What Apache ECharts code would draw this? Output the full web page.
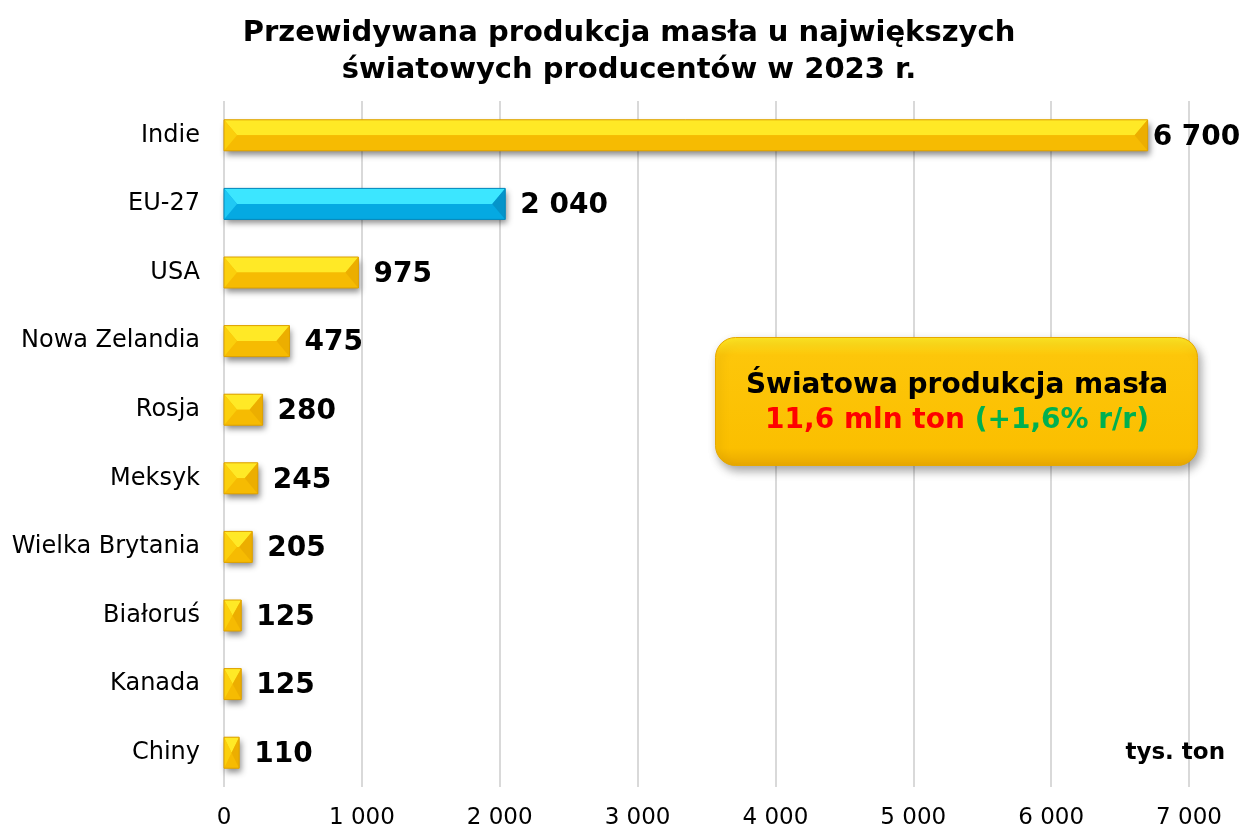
<!DOCTYPE html>
<html><head><meta charset="utf-8">
<script src="https://cdn.jsdelivr.net/npm/echarts@6/dist/echarts.min.js"></script>
<style>html,body{margin:0;padding:0;background:#fff}#c{width:1247px;height:830px}</style>
</head><body><div id="c"></div>
<script>
const categories = ['Indie','EU-27','USA','Nowa Zelandia','Rosja','Meksyk','Wielka Brytania','Białoruś','Kanada','Chiny'];
const values = [6700, 2040, 975, 475, 280, 245, 205, 125, 125, 110];
const highlight = ['EU-27'];
const xTicks = [0, 1000, 2000, 3000, 4000, 5000, 6000, 7000];
const titleLines = ['Przewidywana produkcja masła u największych', 'światowych producentów w 2023 r.'];
const unitLabel = 'tys. ton';
const boxLine1 = 'Światowa produkcja masła';
const boxLine2a = '11,6 mln ton';
const boxLine2b = '(+1,6% r/r)';

const FONT = 'DejaVu Sans';
const fmt = v => String(v).replace(/\B(?=(\d{3})+(?!\d))/g, ' ');

const palettes = {
  yellow: {top:'#FFE926', bottom:'#F6BB02', left:'#FBCF0C', right:'#ECAE00', edge:'#DDA000'},
  blue:   {top:'#3CE6FF', bottom:'#05A9E2', left:'#20C8F4', right:'#0594CA', edge:'#0588BB'}
};

const chart = echarts.init(document.getElementById('c'), null, {renderer:'canvas'});
const data = values.map((v,i)=>[v,i]);

chart.setOption({
  animation:false,
  backgroundColor:'#fff',
  title:{
    text: titleLines.join('\n'), left: 624, top: 10, textAlign:'center',
    textStyle:{fontFamily:FONT, fontWeight:'bold', fontSize:29, lineHeight:37, color:'#000'}
  },
  grid:{left:224, right:58, top:101, height:686},
  xAxis:{
    type:'value', min:xTicks[0], max:xTicks[xTicks.length-1], interval:1000,
    axisLine:{show:false}, axisTick:{show:false},
    splitLine:{show:true, lineStyle:{color:'#D9D9D9', width:2}},
    axisLabel:{fontFamily:FONT, fontSize:23, color:'#000', margin:20, formatter: v => fmt(v)}
  },
  yAxis:{
    type:'category', data:categories, inverse:true,
    axisLine:{show:false}, axisTick:{show:false},
    axisLabel:{fontFamily:FONT, fontSize:24, color:'#000', margin:24}
  },
  series:[{
    type:'custom',
    encode:{x:0, y:1},
    data:data,
    renderItem:(params, api)=>{
      const v = api.value(0), idx = api.value(1);
      const p0 = api.coord([0, idx]), p1 = api.coord([v, idx]);
      const h = 31;
      const x0 = p0[0], x1 = p1[0], yc = p0[1];
      const y0 = yc - h/2, y1 = yc + h/2;
      const b = Math.min(13, (x1-x0)/2, h/2);
      const pal = highlight.includes(categories[idx]) ? palettes.blue : palettes.yellow;
      const ym = yc;
      const isFirst = idx === 0;
      return {
        type:'group',
        children:[
          {type:'rect', shape:{x:x0, y:y0, width:x1-x0, height:h},
           style:{fill:pal.bottom, shadowBlur:6, shadowOffsetX:2, shadowOffsetY:4, shadowColor:'rgba(0,0,0,0.45)'}},
          {type:'polygon', shape:{points:[[x0,y0],[x1,y0],[x1-b,ym],[x0+b,ym]]}, style:{fill:pal.top}},
          {type:'polygon', shape:{points:[[x0,y1],[x1,y1],[x1-b,ym],[x0+b,ym]]}, style:{fill:pal.bottom}},
          {type:'polygon', shape:{points:[[x0,y0],[x0+b,ym],[x0,y1]]}, style:{fill:pal.left}},
          {type:'polygon', shape:{points:[[x1,y0],[x1-b,ym],[x1,y1]]}, style:{fill:pal.right}},
          {type:'rect', shape:{x:x0, y:y0, width:x1-x0, height:h}, style:{fill:'none', stroke:pal.edge, lineWidth:1}},
          {type:'text', x: x1 + (isFirst ? 5 : 15), y: yc + 2,
           style:{text: fmt(v), fill:'#000', fontFamily:FONT, fontWeight:'bold', fontSize:28, align:'left', verticalAlign:'middle'}}
        ]
      };
    }
  }],
  graphic:[
    {type:'rect', left:715, top:337, z:100, shape:{width:482, height:128, r:20},
     style:{fill:new echarts.graphic.LinearGradient(0,0,0,1,[
        {offset:0, color:'#FFE824'},{offset:0.14, color:'#FDC60A'},{offset:0.86, color:'#FBBF00'},{offset:1, color:'#E8A800'}]),
       stroke:'#E6A800', lineWidth:1, shadowBlur:10, shadowOffsetX:3, shadowOffsetY:5, shadowColor:'rgba(0,0,0,0.35)'}},
    {type:'text', x:957, y:386, z:101,
     style:{text:boxLine1, fontFamily:FONT, fontWeight:'bold', fontSize:28, fill:'#000', align:'center', verticalAlign:'middle'}},
    {type:'text', x:957, y:421, z:101,
     style:{text:'{r|'+boxLine2a+'} {g|'+boxLine2b+'}', fontFamily:FONT, fontWeight:'bold', fontSize:28, fill:'#000', align:'center', verticalAlign:'middle',
       rich:{r:{fontFamily:FONT, fontWeight:'bold', fontSize:28, fill:'#FF0000', color:'#FF0000'},
             g:{fontFamily:FONT, fontWeight:'bold', fontSize:28, fill:'#00B050', color:'#00B050'}}}},
    {type:'text', right:22, top:742, z:101,
     style:{text:unitLabel, fontFamily:FONT, fontWeight:'bold', fontSize:23, fill:'#000'}}
  ]
});
</script></body></html>
